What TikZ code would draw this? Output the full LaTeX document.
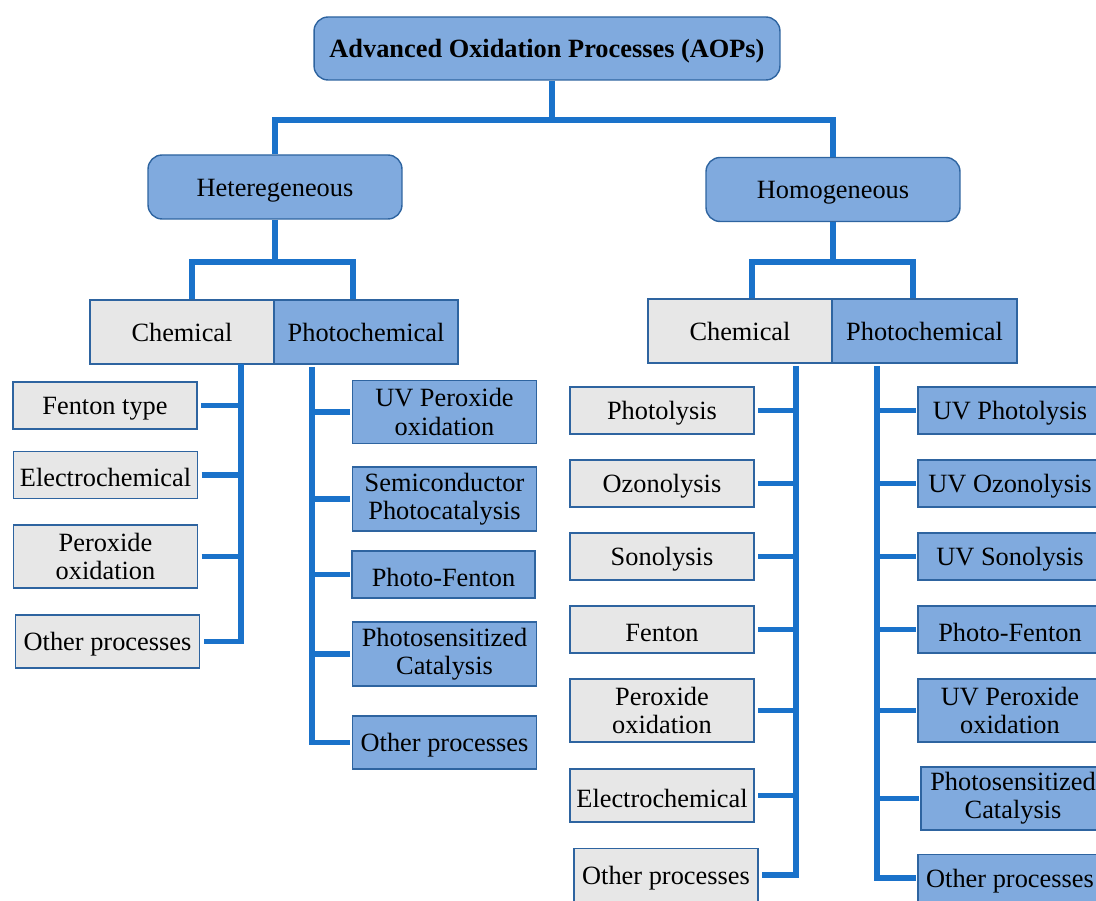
\documentclass[tikz,border=0pt]{standalone}
\usepackage{fontspec}
\setmainfont{Liberation Serif}
\usepackage{tikz}
\usetikzlibrary{positioning}
\definecolor{boxblue}{RGB}{128,170,222}
\definecolor{edgeblue}{RGB}{46,100,160}
\definecolor{boxgray}{RGB}{231,231,231}
\definecolor{linkblue}{RGB}{26,114,202}

\begin{document}
\begin{tikzpicture}[x=0.02cm, y=-0.02cm,
		every node/.style={font=\fontsize{15}{16}\selectfont, align=center, inner sep=1pt},
		rootbox/.style={draw=edgeblue, fill=boxblue, rounded corners=8pt, line width=0.8pt},
		chembox/.style={draw=edgeblue, fill=boxgray, line width=0.8pt, minimum width=3.68cm, minimum height=0.94cm},
		photobox/.style={draw=edgeblue, fill=boxblue, line width=0.8pt, minimum width=3.68cm, minimum height=0.94cm},
		tall/.style={minimum height=1.26cm},
		low/.style={execute at begin node={\rule{0pt}{13.6pt}}},
		link/.style={draw=linkblue, line width=3.4pt, line join=miter}
		]
		\useasboundingbox (0,0) rectangle (1096,901);
		% top levels
		\node[rootbox, low, minimum width=9.32cm, minimum height=1.26cm] (aops) at (547,48.5) {\textbf{Advanced Oxidation Processes (AOPs)}};
		\node[rootbox, low, minimum width=5.08cm, minimum height=1.28cm] (het) at (275,187) {Heteregeneous};
		\node[rootbox, low, minimum width=5.08cm, minimum height=1.28cm] (hom) at (833,189.5) {Homogeneous};
		\node[chembox, minimum height=1.28cm] (lchem) at (182,332) {Chemical};
		\node[photobox, minimum height=1.28cm] (lphot) at (366,332) {Photochemical};
		\node[chembox, minimum height=1.28cm] (rchem) at (740,331) {Chemical};
		\node[photobox, minimum width=3.70cm, minimum height=1.28cm] (rphot) at (924.5,331) {Photochemical};
		% heterogeneous, chemical
		\node[chembox, low] (lc1) at (105,405.5) {Fenton type};
		\node[chembox, low] (lc2) at (105.5,475) {Electrochemical};
		\node[chembox, tall] (lc3) at (105.5,556.5) {Peroxide\\oxidation};
		\node[chembox, low, minimum height=1.06cm] (lc4) at (107.5,641.5) {Other processes};
		% heterogeneous, photochemical
		\node[photobox, tall] (lp1) at (444.5,412) {UV Peroxide\\oxidation};
		\node[photobox, minimum height=1.28cm] (lp2) at (444.5,499) {Semiconductor\\Photocatalysis};
		\node[photobox, low, minimum width=3.66cm] (lp3) at (443.5,574.5) {Photo-Fenton};
		\node[photobox, minimum height=1.28cm] (lp4) at (444.5,654) {Photosensitized\\Catalysis};
		\node[photobox, low, minimum height=1.06cm] (lp5) at (444.5,742.5) {Other processes};
		% homogeneous, chemical
		\node[chembox, low] (rc1) at (662,410.5) {Photolysis};
		\node[chembox, low] (rc2) at (662,483.5) {Ozonolysis};
		\node[chembox, low] (rc3) at (662,556.5) {Sonolysis};
		\node[chembox, low] (rc4) at (662,629.5) {Fenton};
		\node[chembox, tall] (rc5) at (662,710.5) {Peroxide\\oxidation};
		\node[chembox, low, minimum height=1.06cm] (rc6) at (662,795.5) {Electrochemical};
		\node[chembox, low, minimum height=1.06cm] (rc7) at (666,875) {Other processes};
		% homogeneous, photochemical
		\node[photobox, low] (rp1) at (1010,410.5) {UV Photolysis};
		\node[photobox, low] (rp2) at (1010,483.5) {UV Ozonolysis};
		\node[photobox, low] (rp3) at (1010,556.5) {UV Sonolysis};
		\node[photobox, low] (rp4) at (1010,629.5) {Photo-Fenton};
		\node[photobox, tall] (rp5) at (1010,710.5) {UV Peroxide\\oxidation};
		\node[photobox, tall] (rp6) at (1013,798.5) {Photosensitized\\Catalysis};
		\node[photobox, low] (rp7) at (1010,878) {Other processes};
		% tree connectors
		\coordinate (top) at (552,120);
		\draw[link] (aops.south -| top) -- (top);
		\draw[link] (het.north) |- (top) -| (hom.north);
		\coordinate (hj) at (275,262);
		\coordinate (oj) at (833,262);
		\draw[link] (het.south) -- (hj);
		\draw[link] (hom.south) -- (oj);
		\draw[link] (lchem.north -| 192,0) |- (hj) -| (lphot.north -| 353,0);
		\draw[link] (rchem.north -| 752,0) |- (oj) -| (rphot.north -| 913,0);
		% trunks
		\coordinate (lct) at (241,364);
		\coordinate (lpt) at (312,367);
		\coordinate (rct) at (796,366);
		\coordinate (rpt) at (877,366);
		\draw[link] (lct) |- ([xshift=2pt]lc4.east);
		\draw[link] (lpt) |- ([xshift=-1pt]lp5.west);
		\draw[link] (rct) |- ([xshift=2pt]rc7.east);
		\draw[link] (rpt) |- ([xshift=-1pt]rp7.west);
		\foreach \n in {lc1,lc2,lc3}
			\draw[link] ([xshift=2pt]\n.east) -- (\n.east -| lct);
		\foreach \n in {lp1,lp2,lp3,lp4}
			\draw[link] ([xshift=-1pt]\n.west) -- (\n.west -| lpt);
		\foreach \n in {rc1,rc2,rc3,rc4,rc5,rc6}
			\draw[link] ([xshift=2pt]\n.east) -- (\n.east -| rct);
		\foreach \n in {rp1,rp2,rp3,rp4,rp5,rp6}
			\draw[link] ([xshift=-1pt]\n.west) -- (\n.west -| rpt);
\end{tikzpicture}
\end{document}
